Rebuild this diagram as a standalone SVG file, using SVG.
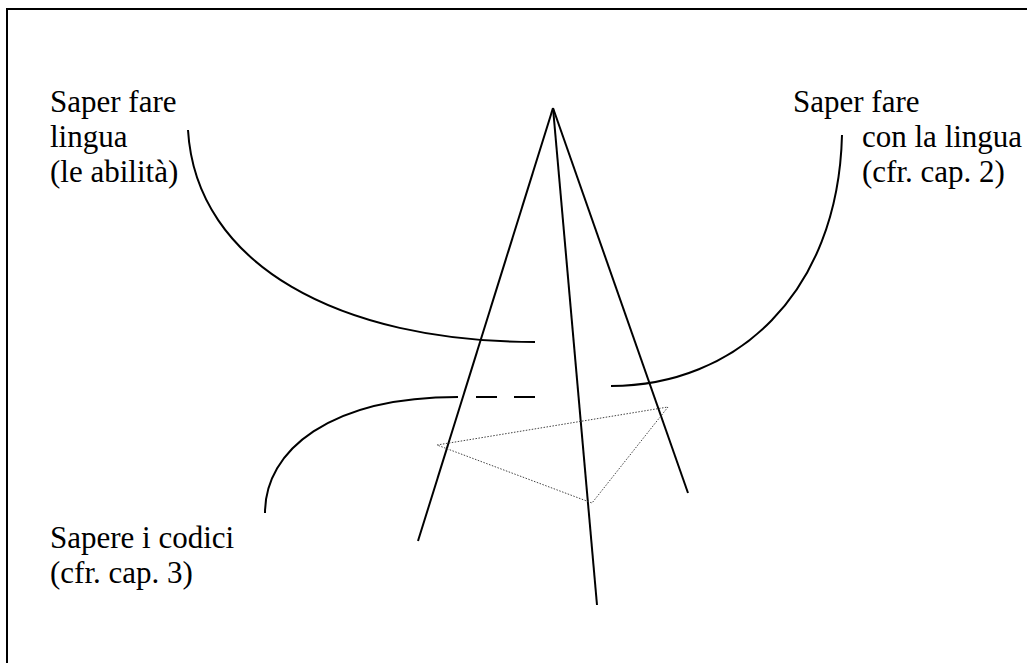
<svg xmlns="http://www.w3.org/2000/svg" width="1027" height="663" viewBox="0 0 1027 663">
<style>
  .ln { fill: none; stroke: #000; stroke-width: 2; stroke-linecap: butt; }
  .dot { fill: none; stroke: #444; stroke-width: 1; stroke-dasharray: 1.5 1.5; }
  .t { font-family: "Liberation Serif", "Times New Roman", "DejaVu Serif", serif; font-size: 31px; fill: #000; }
</style>
<rect x="0" y="0" width="1027" height="663" fill="#fff"/>
<rect x="7" y="9" width="1100" height="700" fill="none" stroke="#000" stroke-width="2"/>
<g id="connectors">
  <line class="ln" x1="553" y1="108" x2="418" y2="541"/>
  <line class="ln" x1="553" y1="108" x2="597" y2="605"/>
  <line class="ln" x1="553" y1="108" x2="688" y2="493"/>
  <path class="ln" d="M188,130 C196,265 340,342 535,342"/>
  <path class="ln" d="M842,135 C838,295 735,386 611,386"/>
  <path class="ln" d="M265,513 C265,450 330,397 458,397"/>
  <line class="ln" x1="476" y1="397" x2="497" y2="397"/>
  <line class="ln" x1="514" y1="397" x2="535" y2="397"/>
  <polygon class="dot" points="437,445 668,407 592,503"/>
</g>
<g id="node-saper-fare-lingua" class="t">
  <text x="50" y="112">Saper fare</text>
  <text x="50" y="147">lingua</text>
  <text x="50" y="182">(le abilità)</text>
</g>
<g id="node-saper-fare-con-lingua" class="t">
  <text x="793" y="112">Saper fare</text>
  <text x="862" y="147">con la lingua</text>
  <text x="862" y="182">(cfr. cap. 2)</text>
</g>
<g id="node-sapere-codici" class="t">
  <text x="50" y="548">Sapere i codici</text>
  <text x="50" y="583">(cfr. cap. 3)</text>
</g>
</svg>
